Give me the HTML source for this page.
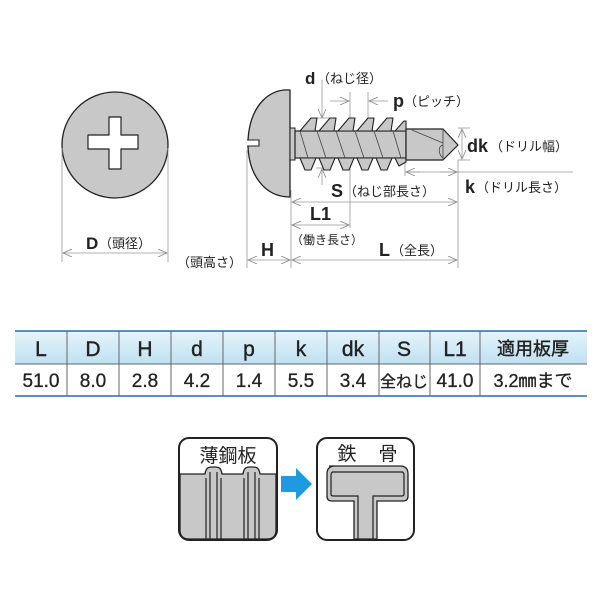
<!DOCTYPE html>
<html><head><meta charset="utf-8"><style>
body{margin:0;background:#fff;}
svg{display:block;font-family:"Liberation Sans","Noto Sans CJK JP",sans-serif;}
</style></head><body>
<svg width="600" height="600" viewBox="0 0 600 600" xmlns="http://www.w3.org/2000/svg">
<defs>
<marker id="a" markerWidth="10" markerHeight="8" refX="9" refY="4" orient="auto-start-reverse" markerUnits="userSpaceOnUse">
<path d="M0,0 L9,4 L0,8" fill="none" stroke="#888" stroke-width="0.8"/></marker>
<linearGradient id="hg" x1="0" y1="0" x2="0" y2="1"><stop offset="0" stop-color="#e6f4fb"/><stop offset="1" stop-color="#bfe0f2"/></linearGradient>
</defs>
<circle cx="115" cy="145" r="53" fill="#c8c8c8" stroke="#222" stroke-width="1.3"/>
<path d="M109,117 h12 v18 h17 v14 h-17 v20 h-12 v-20 h-21 v-14 h21 z" fill="#fff" stroke="#222" stroke-width="1.2" stroke-linejoin="round"/>
<g stroke="#999" stroke-width="0.8" fill="none">
<line x1="62" y1="148" x2="62" y2="262"/><line x1="168" y1="148" x2="168" y2="262"/>
<line x1="63" y1="253" x2="167" y2="253" marker-start="url(#a)" marker-end="url(#a)"/>
</g>
<text x="86" y="249" font-size="17" font-weight="bold" fill="#222">D</text>
<text x="99" y="248" font-size="13" fill="#222">（頭径）</text>
<g stroke="#999" stroke-width="0.8" fill="none">
<line x1="247" y1="150" x2="247" y2="268"/>
<line x1="291" y1="190" x2="291" y2="268"/>
<line x1="458" y1="160" x2="458" y2="268"/>
<line x1="248" y1="260" x2="290" y2="260" marker-start="url(#a)" marker-end="url(#a)"/>
<line x1="292" y1="260" x2="457" y2="260" marker-start="url(#a)" marker-end="url(#a)"/>
<line x1="292" y1="225" x2="349" y2="225" marker-start="url(#a)" marker-end="url(#a)"/>
<line x1="350" y1="92" x2="350" y2="228"/>
<line x1="368" y1="92" x2="368" y2="118"/>
<line x1="292" y1="202" x2="457" y2="202" marker-start="url(#a)" marker-end="url(#a)"/>
<line x1="330" y1="101" x2="349" y2="101" marker-end="url(#a)"/>
<line x1="388" y1="101" x2="369" y2="101" marker-end="url(#a)"/>
<line x1="322" y1="80" x2="322" y2="118" marker-end="url(#a)"/>
<line x1="322" y1="185" x2="322" y2="169" marker-end="url(#a)"/>
<line x1="316" y1="118" x2="330" y2="118"/><line x1="316" y1="168" x2="330" y2="168"/>
<line x1="462" y1="129" x2="462" y2="159" marker-start="url(#a)" marker-end="url(#a)"/>
<line x1="458" y1="128" x2="470" y2="128"/><line x1="458" y1="160" x2="470" y2="160"/>
<line x1="405" y1="172" x2="573" y2="172"/>
<line x1="405" y1="160" x2="405" y2="176"/>
<line x1="420" y1="172" x2="406" y2="172" marker-end="url(#a)"/>
<line x1="440" y1="172" x2="457" y2="172" marker-end="url(#a)"/>
</g>
<path d="M290,90 C270,88 250,105 248,140 C247,175 265,197 290,197 Z" fill="#c8c8c8" stroke="#222" stroke-width="1.3" stroke-linejoin="round"/>
<path d="M247,140 h12 v6 h-12" fill="#fff" stroke="#222" stroke-width="1.1"/>
<rect x="290" y="128" width="5" height="32" fill="#c8c8c8" stroke="#222" stroke-width="1"/>
<rect x="295" y="131" width="111" height="27" fill="#c8c8c8" stroke="#222" stroke-width="1.2"/>
<g fill="#c8c8c8" stroke="#222" stroke-width="1.1" stroke-linejoin="round">
<path d="M300,131 L311,118 L317,118 L315,131 Z"/>
<path d="M319,131 L330,118 L336,118 L334,131 Z"/>
<path d="M338,131 L349,118 L355,118 L353,131 Z"/>
<path d="M357,131 L368,118 L374,118 L372,131 Z"/>
<path d="M376,131 L387,118 L393,118 L391,131 Z"/>
<path d="M395,131 L404,121 L406,121 L406,131 Z"/>
<path d="M300,158 L305,170 L311,170 L316,158 Z"/>
<path d="M319,158 L324,170 L330,170 L335,158 Z"/>
<path d="M338,158 L343,170 L349,170 L354,158 Z"/>
<path d="M357,158 L362,170 L368,170 L373,158 Z"/>
<path d="M376,158 L381,170 L387,170 L392,158 Z"/>
<path d="M395,158 L399,166 L406,162 L406,158 Z"/>
</g>
<g stroke="#444" stroke-width="0.8">
<line x1="300" y1="131" x2="308" y2="158"/><line x1="317" y1="131" x2="326" y2="158"/>
<line x1="336" y1="131" x2="345" y2="158"/><line x1="355" y1="131" x2="364" y2="158"/>
<line x1="374" y1="131" x2="383" y2="158"/><line x1="393" y1="131" x2="401" y2="158"/>
</g>
<path d="M406,129 L443,129 L458,145 L443,160 L406,160 Z" fill="#c8c8c8" stroke="#222" stroke-width="1.2" stroke-linejoin="round"/>
<path d="M412,130 L443,143 M443,130 L443,160 M443,145 C438,146 438,154 443,158" fill="none" stroke="#444" stroke-width="0.8"/>
<g fill="#222">
<text x="305" y="84" font-size="17" font-weight="bold">d</text>
<text x="317" y="83" font-size="13">（ねじ径）</text>
<text x="393" y="107" font-size="18" font-weight="bold">p</text>
<text x="404" y="106" font-size="13">（ピッチ）</text>
<text x="467" y="152" font-size="18" font-weight="bold">dk</text>
<text x="490" y="151" font-size="13">（ドリル幅）</text>
<text x="465" y="193" font-size="18" font-weight="bold">k</text>
<text x="476" y="192" font-size="13">（ドリル長さ）</text>
<text x="331" y="197" font-size="18" font-weight="bold">S</text>
<text x="344" y="196" font-size="13">（ねじ部長さ）</text>
<text x="310" y="220" font-size="18" font-weight="bold">L1</text>
<text x="291" y="244" font-size="12">（働き長さ）</text>
<text x="261" y="256" font-size="18" font-weight="bold">H</text>
<text x="379" y="256" font-size="18" font-weight="bold">L</text>
<text x="391" y="255" font-size="13">（全長）</text>
<text x="177" y="267" font-size="13">（頭高さ）</text>
</g>
<rect x="15" y="331" width="572" height="33" fill="url(#hg)"/>
<rect x="15" y="364" width="572" height="32" fill="#fff"/>
<g stroke="#666" stroke-width="1">
<line x1="15" y1="331" x2="587" y2="331" stroke="#2b6aa8" stroke-width="1.5"/>
<line x1="15" y1="364" x2="587" y2="364"/>
<line x1="15" y1="396" x2="587" y2="396" stroke="#2b6aa8" stroke-width="1.5"/>
<line x1="67" y1="331" x2="67" y2="396"/><line x1="119" y1="331" x2="119" y2="396"/>
<line x1="171" y1="331" x2="171" y2="396"/><line x1="223" y1="331" x2="223" y2="396"/>
<line x1="275" y1="331" x2="275" y2="396"/><line x1="327" y1="331" x2="327" y2="396"/>
<line x1="379" y1="331" x2="379" y2="396"/><line x1="430" y1="331" x2="430" y2="396"/>
<line x1="480" y1="331" x2="480" y2="396"/>
</g>
<g font-size="21" fill="#222" text-anchor="middle" stroke="#222" stroke-width="0.4">
<text x="41" y="356">L</text><text x="93" y="356">D</text><text x="145" y="356">H</text>
<text x="197" y="356">d</text><text x="249" y="356">p</text><text x="301" y="356">k</text>
<text x="353" y="356">dk</text><text x="404" y="356">S</text><text x="455" y="356">L1</text>
<text x="533" y="355" font-size="18">適用板厚</text>
</g>
<g font-size="19" fill="#222" text-anchor="middle" stroke="#222" stroke-width="0.3">
<text x="41" y="387">51.0</text><text x="93" y="387">8.0</text><text x="145" y="387">2.8</text>
<text x="197" y="387">4.2</text><text x="249" y="387">1.4</text><text x="301" y="387">5.5</text>
<text x="353" y="387">3.4</text><text x="404" y="387" font-size="16">全ねじ</text><text x="455" y="387">41.0</text>
<text x="533" y="387" font-size="18">3.2㎜まで</text>
</g>
<rect x="179" y="438" width="98" height="102" rx="10" fill="#fff" stroke="#222" stroke-width="2"/>
<path d="M180,474 H205 C206,468 208,467 212,467 H215 C219,467 221,468 222,474 H243 C244,468 246,467 250,467 H253 C257,467 259,468 260,474 H276 V530 Q276,539 267,539 H189 Q180,539 180,530 Z" fill="#c8c8c8" stroke="#222" stroke-width="1.3"/>
<g stroke="#222" stroke-width="1.2"><line x1="206" y1="478" x2="206" y2="539"/><line x1="221" y1="478" x2="221" y2="539"/><line x1="244" y1="478" x2="244" y2="539"/><line x1="259" y1="478" x2="259" y2="539"/>
<line x1="210" y1="472" x2="210" y2="539"/><line x1="217" y1="472" x2="217" y2="539"/><line x1="248" y1="472" x2="248" y2="539"/><line x1="255" y1="472" x2="255" y2="539"/></g>
<text x="228" y="462" font-size="19" fill="#222" text-anchor="middle">薄鋼板</text>
<path d="M281,476 H296 V468 L312,484 L296,500 V492 H281 Z" fill="#1e9be0"/>
<rect x="317" y="438" width="97" height="102" rx="10" fill="#fff" stroke="#222" stroke-width="2"/>
<path d="M329,466 H400 Q408,466 408,474 V496 Q408,501 403,501 H377 V539 H354 V501 H332 Q327,501 327,496 V474 Q327,466 335,466 Z" fill="#c8c8c8" stroke="#222" stroke-width="1.3"/>
<path d="M332,472 H402 Q404,472 404,476 V494 Q404,496 402,496 H373 V539 M358,539 V496 H333 Q331,496 331,494 V476 Q331,472 333,472" fill="none" stroke="#222" stroke-width="1.2"/>
<text x="347" y="460" font-size="19" fill="#222" text-anchor="middle">鉄</text>
<text x="388" y="460" font-size="19" fill="#222" text-anchor="middle">骨</text>
</svg>
</body></html>
